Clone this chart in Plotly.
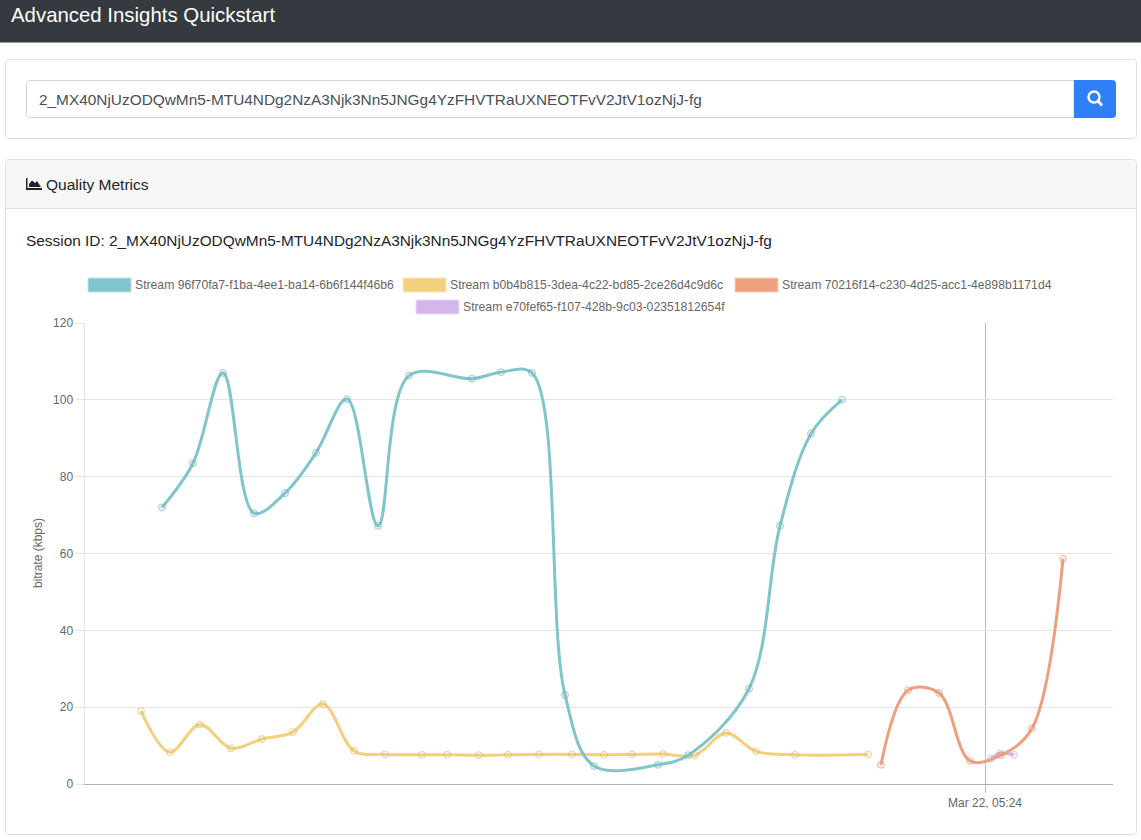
import pandas as pd
import plotly.graph_objects as go

W, H = 1141, 840
PLOT_L, PLOT_R, PLOT_T, PLOT_B = 84.5, 1113, 323, 784

SESSION_ID = "2_MX40NjUzODQwMn5-MTU4NDg2NzA3Njk3Nn5JNGg4YzFHVTRaUXNEOTFvV2JtV1ozNjJ-fg"
TICK_TIME = pd.Timestamp("2020-03-22 05:24:00")
RANGE_SECONDS = [-450.25, 64]

# Sample times in seconds relative to the 05:24 tick, bitrates in kbps
teal_name = "Stream 96f70fa7-f1ba-4ee1-ba14-6b6f144f46b6"
teal_t = [-411.5, -396, -381, -365.5, -350, -334.5, -319, -303.5, -288, -256.5,
          -242, -226.5, -210, -195.5, -163.5, -148.5, -118, -102.5, -87, -71.5]
teal_v = [72, 83.5, 107, 70.5, 75.7, 86.2, 100.2, 67.2, 106.3, 105.5,
          107.2, 107, 23.2, 4.7, 5, 7.5, 24.8, 67.2, 91.2, 100]

yellow_name = "Stream b0b4b815-3dea-4c22-bd85-2ce26d4c9d6c"
yellow_t = [-422, -407.5, -392.5, -377, -361.5, -346, -331, -315.5, -300, -281.5, -269, -253,
            -238.5, -223, -206.5, -190.5, -176.5, -161, -145, -129.5, -114.5, -95, -58.5]
yellow_v = [19, 8.3, 15.5, 9.3, 11.7, 13.5, 20.8, 8.6, 7.7, 7.6, 7.6, 7.5,
            7.6, 7.7, 7.7, 7.6, 7.7, 7.8, 7.5, 13.3, 8.5, 7.6, 7.7]

orange_name = "Stream 70216f14-c230-4d25-acc1-4e898b1171d4"
orange_t = [-52, -38.5, -23, -7.5, 8, 23.5, 39]
orange_v = [5, 24.4, 23.7, 6, 7.5, 14.5, 58.6]

purple_name = "Stream e70fef65-f107-428b-9c03-02351812654f"
purple_t = [3, 7.5, 14.5]
purple_v = [6.6, 8, 7.6]


def px_x(x):
    return x / W


def px_y(y):
    return 1 - y / H


def when(seconds):
    return [TICK_TIME + pd.Timedelta(seconds=s) for s in seconds]


def rect(x0, y0, x1, y1, fill=None, line=None, width=1, layer="below"):
    return dict(type="rect", xref="paper", yref="paper", layer=layer,
                x0=px_x(x0), x1=px_x(x1), y0=px_y(y0), y1=px_y(y1),
                fillcolor=fill or "rgba(0,0,0,0)",
                line=dict(color=line or "rgba(0,0,0,0)", width=width if line else 0))


def path(points, fill=None, line=None, width=1, closed=True, layer="below"):
    cmds = []
    for i, p in enumerate(points):
        if len(p) == 2:
            cmds.append(f"{'M' if i == 0 else 'L'}{px_x(p[0]):.6f},{px_y(p[1]):.6f}")
        else:
            cmds.append("Q" + f"{px_x(p[0]):.6f},{px_y(p[1]):.6f} {px_x(p[2]):.6f},{px_y(p[3]):.6f}")
    d = " ".join(cmds) + (" Z" if closed else "")
    return dict(type="path", xref="paper", yref="paper", layer=layer, path=d,
                fillcolor=fill or "rgba(0,0,0,0)",
                line=dict(color=line or "rgba(0,0,0,0)", width=width if line else 0))


def rounded(x0, y0, x1, y1, r, fill=None, line=None, corners=(1, 1, 1, 1)):
    tl, tr, br, bl = [r * c for c in corners]
    pts = [(x0 + tl, y0), (x1 - tr, y0), (x1, y0, x1, y0 + tr), (x1, y1 - br),
           (x1, y1, x1 - br, y1), (x0 + bl, y1), (x0, y1, x0, y1 - bl),
           (x0, y0 + tl), (x0, y0, x0 + tl, y0)]
    return path(pts, fill=fill, line=line)


def label(x, y, text, size=14, color="#212529", anchor="left", font="Liberation Sans", angle=0):
    return dict(xref="paper", yref="paper", x=px_x(x), y=px_y(y), text=text, showarrow=False,
                xanchor=anchor, yanchor="middle", textangle=angle, borderpad=0, borderwidth=0,
                font=dict(family=font, size=size, color=color))


STREAMS = [
    (teal_name, teal_t, teal_v, "#7fc5cb", "#bfe2e5", "127,197,203", "120,170,175"),
    (yellow_name, yellow_t, yellow_v, "#f2d07e", "#f9e8bf", "242,208,126", "205,180,120"),
    (orange_name, orange_t, orange_v, "#ee9f7c", "#f7cfbe", "238,159,124", "205,145,120"),
    (purple_name, purple_t, purple_v, "#d4b5ec", "#eadaf6", "212,181,236", "190,165,215"),
]

# Legend swatch left edge and vertical centre for each stream
LEGEND_BOXES = [(88, 285), (403, 285), (735, 285), (416, 307)]

fig = go.Figure()

# The first stream paints last so that it lies on top
for name, t, v, color, ring, rgb, edge in reversed(STREAMS):
    fig.add_trace(go.Scatter(
        x=when(t), y=v, name=name, mode="lines+markers",
        line=dict(color=color, width=3, shape="spline", smoothing=1.0),
        marker=dict(size=7, color=f"rgba({rgb},0.2)", line=dict(color=f"rgba({edge},0.55)", width=1)),
        showlegend=False, hoverinfo="x+y",
    ))

shapes = [
    # Navbar
    rect(0, 0, W, 42.5, fill="#343a40"),
    # Search card
    rounded(5.5, 59.5, 1136.5, 138.5, 4, fill="#ffffff", line="#dfdfdf"),
    rounded(26.5, 80.5, 1074, 117.5, 4, fill="#ffffff", line="#ced4da", corners=(1, 0, 0, 1)),
    rounded(1074, 80, 1116, 118, 4, fill="#2f80f6", corners=(0, 1, 1, 0)),
    dict(type="circle", xref="paper", yref="paper", layer="below",
         x0=px_x(1088.5), x1=px_x(1099.5), y0=px_y(91.5), y1=px_y(102.5),
         line=dict(color="#ffffff", width=2.4)),
    path([(1098, 101), (1102, 105.5)], line="#ffffff", width=2.8, closed=False),
    # Quality metrics card
    rounded(5.5, 159.5, 1136.5, 834.5, 4, fill="#ffffff", line="#dfdfdf"),
    rounded(6, 160, 1136, 208, 4, fill="#f7f7f7", corners=(1, 1, 0, 0)),
    path([(6, 208.5), (1136, 208.5)], line="#dfdfdf", closed=False),
    # Area-chart glyph in the card header
    path([(26, 178), (27.5, 178), (27.5, 188), (42, 188), (42, 190), (26, 190)], fill="#212529"),
    path([(29, 187), (29, 184), (32, 180.5), (35, 183), (37, 181), (41, 187)], fill="#212529"),
]

annotations = [
    label(11, 15, "Advanced Insights Quickstart", size=20.4, color="#ffffff"),
    label(39, 99, SESSION_ID, size=15.4, color="#495057"),
    label(46, 184.5, "Quality Metrics", size=15.5),
    label(26, 241, "Session ID: " + SESSION_ID, size=15.4),
    label(38, 553, "bitrate (kbps)", size=12, color="#666666", anchor="center", angle=-90),
]

for (name, _, _, color, ring, _, _), (bx, cy) in zip(STREAMS, LEGEND_BOXES):
    shapes.append(rect(bx, cy - 7, bx + 43, cy + 7, fill=color, line=ring, width=1))
    annotations.append(label(bx + 47, cy, name, size=12.2, color="#666666"))

fig.update_layout(
    width=W, height=H, margin=dict(l=0, r=0, t=0, b=0),
    paper_bgcolor="#ffffff", plot_bgcolor="#ffffff",
    font=dict(family="Liberation Sans", size=12, color="#666666"),
    showlegend=False, hovermode="closest",
    shapes=shapes, annotations=annotations,
    xaxis=dict(
        type="date", domain=[px_x(PLOT_L), px_x(PLOT_R)], automargin=False,
        range=when(RANGE_SECONDS), tickvals=[TICK_TIME], tickformat="%b %d, %H:%M",
        showgrid=True, gridcolor="#bcbcbc", gridwidth=1, zeroline=False,
        showline=True, linecolor="#b0b0b0", linewidth=1,
        ticks="outside", ticklen=8, tickcolor="#bcbcbc", tickfont=dict(size=12, color="#666666"),
    ),
    yaxis=dict(
        domain=[px_y(PLOT_B), px_y(PLOT_T)], automargin=False,
        range=[0, 120], tick0=0, dtick=20,
        showgrid=True, gridcolor="#e5e5e5", gridwidth=1, zeroline=False,
        showline=True, linecolor="#e5e5e5", linewidth=1,
        ticks="outside", ticklen=8, tickcolor="#e5e5e5", tickfont=dict(size=12, color="#666666"),
    ),
)

fig.write_html("out.html", config=dict(displayModeBar=False))
